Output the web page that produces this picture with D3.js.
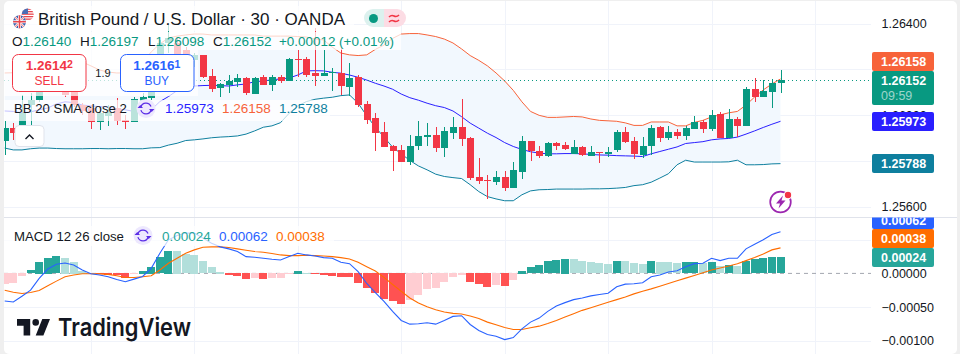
<!DOCTYPE html>
<html><head><meta charset="utf-8">
<script src="https://cdn.jsdelivr.net/npm/d3@7/dist/d3.min.js"></script>
<style>
html,body{margin:0;padding:0;background:#fff}
svg{display:block}
text{font-family:"Liberation Sans",Arial,sans-serif}
</style></head><body>
<svg id="c" width="960" height="354"></svg>
<script>
const OPEN=[1.25885,1.25944,1.25924,1.26045,1.26066,1.26139,1.26190,1.26175,1.26110,1.26045,1.26030,1.25969,1.25994,1.26030,1.25979,1.25972,1.26062,1.26074,1.26110,1.26316,1.26316,1.26284,1.26241,1.26263,1.26171,1.26120,1.26132,1.26146,1.26161,1.26092,1.26165,1.26132,1.26165,1.26151,1.26245,1.26244,1.26183,1.26172,1.26183,1.26186,1.26123,1.26168,1.26049,1.25988,1.25927,1.25866,1.25848,1.25794,1.25866,1.25906,1.25914,1.25857,1.25922,1.25949,1.25901,1.25730,1.25717,1.25709,1.25730,1.25682,1.25752,1.25887,1.25844,1.25822,1.25879,1.25870,1.25831,1.25861,1.25822,1.25839,1.25831,1.25848,1.25927,1.25887,1.25826,1.25866,1.25949,1.25901,1.25927,1.25909,1.25940,1.25970,1.25940,1.26005,1.25901,1.25983,1.25953,1.26114,1.26079,1.26101,1.26140];
const HIGH=[1.25976,1.25965,1.26088,1.26098,1.26154,1.26204,1.26204,1.26190,1.26124,1.26052,1.26045,1.26023,1.26045,1.26074,1.26001,1.26081,1.26095,1.26117,1.26328,1.26401,1.26335,1.26299,1.26270,1.26263,1.26202,1.26139,1.26175,1.26180,1.26165,1.26168,1.26174,1.26174,1.26174,1.26248,1.26284,1.26252,1.26379,1.26284,1.26207,1.26296,1.26228,1.26175,1.26062,1.26008,1.25970,1.25870,1.25871,1.25914,1.25975,1.25965,1.25949,1.25946,1.25992,1.26071,1.25905,1.25813,1.25739,1.25757,1.25757,1.25796,1.25909,1.25887,1.25866,1.25883,1.25883,1.25883,1.25892,1.25866,1.25866,1.25839,1.25861,1.25935,1.25949,1.25905,1.25903,1.25957,1.25953,1.25953,1.25940,1.25953,1.25997,1.25979,1.26023,1.26014,1.26027,1.25992,1.26123,1.26162,1.26154,1.26158,1.26197];
const LOW=[1.25826,1.25892,1.25892,1.25957,1.26059,1.26132,1.26154,1.26081,1.26037,1.26001,1.25940,1.25933,1.25954,1.25957,1.25940,1.25972,1.26059,1.26066,1.26103,1.26270,1.26241,1.26226,1.26212,1.26161,1.26101,1.26078,1.26098,1.26122,1.26088,1.26092,1.26130,1.26106,1.26142,1.26149,1.26168,1.26165,1.26127,1.26171,1.26106,1.26087,1.26085,1.26037,1.25959,1.25845,1.25861,1.25758,1.25796,1.25784,1.25848,1.25863,1.25837,1.25819,1.25896,1.25866,1.25717,1.25701,1.25634,1.25696,1.25669,1.25682,1.25722,1.25800,1.25813,1.25818,1.25848,1.25848,1.25831,1.25822,1.25822,1.25791,1.25818,1.25839,1.25879,1.25809,1.25813,1.25826,1.25883,1.25892,1.25896,1.25892,1.25940,1.25922,1.25931,1.25901,1.25901,1.25905,1.25953,1.26058,1.26079,1.26031,1.26098];
const CLOSE=[1.25943,1.25921,1.26008,1.26066,1.26139,1.26190,1.26175,1.26088,1.26045,1.26020,1.25969,1.26008,1.26015,1.25976,1.25972,1.26071,1.26078,1.26103,1.26316,1.26335,1.26263,1.26241,1.26263,1.26165,1.26114,1.26136,1.26149,1.26162,1.26098,1.26164,1.26133,1.26165,1.26151,1.26244,1.26242,1.26174,1.26171,1.26186,1.26187,1.26129,1.26162,1.26046,1.25979,1.25924,1.25861,1.25845,1.25796,1.25866,1.25909,1.25914,1.25857,1.25931,1.25949,1.25896,1.25726,1.25713,1.25714,1.25730,1.25682,1.25761,1.25887,1.25844,1.25822,1.25879,1.25866,1.25853,1.25861,1.25826,1.25839,1.25835,1.25839,1.25927,1.25883,1.25831,1.25866,1.25944,1.25898,1.25927,1.25909,1.25944,1.25970,1.25940,1.26001,1.25901,1.25983,1.25953,1.26114,1.26079,1.26106,1.26140,1.26152];
const BB_UPPER=[1.26184,1.26185,1.26184,1.26184,1.26188,1.26197,1.26210,1.26223,1.26232,1.26232,1.26215,1.26197,1.26188,1.26184,1.26184,1.26197,1.26232,1.26276,1.26311,1.26337,1.26345,1.26350,1.26354,1.26354,1.26350,1.26350,1.26350,1.26350,1.26350,1.26350,1.26345,1.26345,1.26345,1.26345,1.26343,1.26341,1.26332,1.26328,1.26297,1.26271,1.26263,1.26260,1.26263,1.26287,1.26306,1.26335,1.26354,1.26356,1.26356,1.26350,1.26343,1.26332,1.26315,1.26289,1.26260,1.26239,1.26215,1.26184,1.26149,1.26108,1.26058,1.26016,1.25999,1.25990,1.25990,1.25992,1.25994,1.25992,1.25983,1.25977,1.25975,1.25973,1.25966,1.25955,1.25955,1.25970,1.25970,1.25970,1.25953,1.25953,1.25968,1.25977,1.25992,1.26001,1.26010,1.26016,1.26044,1.26079,1.26110,1.26136,1.26158];
const BB_MID=[1.26018,1.26016,1.26010,1.26014,1.26023,1.26031,1.26049,1.26058,1.26055,1.26044,1.26040,1.26037,1.26036,1.26027,1.26023,1.26016,1.26011,1.26023,1.26059,1.26081,1.26107,1.26119,1.26127,1.26129,1.26130,1.26129,1.26127,1.26132,1.26136,1.26146,1.26149,1.26154,1.26158,1.26162,1.26175,1.26193,1.26194,1.26193,1.26187,1.26183,1.26175,1.26165,1.26153,1.26139,1.26127,1.26113,1.26092,1.26076,1.26065,1.26052,1.26041,1.26033,1.26018,1.25993,1.25965,1.25943,1.25921,1.25902,1.25880,1.25863,1.25850,1.25840,1.25834,1.25831,1.25831,1.25832,1.25832,1.25831,1.25828,1.25826,1.25825,1.25823,1.25822,1.25821,1.25819,1.25831,1.25841,1.25851,1.25861,1.25876,1.25880,1.25884,1.25892,1.25896,1.25898,1.25904,1.25917,1.25931,1.25946,1.25960,1.25973];
const BB_LOWER=[1.25856,1.25848,1.25848,1.25853,1.25856,1.25856,1.25854,1.25853,1.25853,1.25853,1.25854,1.25854,1.25853,1.25854,1.25854,1.25853,1.25853,1.25857,1.25858,1.25869,1.25877,1.25889,1.25892,1.25896,1.25901,1.25904,1.25906,1.25909,1.25917,1.25931,1.25947,1.25953,1.25967,1.26008,1.26040,1.26059,1.26069,1.26074,1.26078,1.26085,1.26088,1.26052,1.25997,1.25947,1.25904,1.25860,1.25831,1.25802,1.25778,1.25761,1.25742,1.25732,1.25727,1.25723,1.25696,1.25666,1.25644,1.25634,1.25626,1.25626,1.25652,1.25669,1.25674,1.25675,1.25677,1.25677,1.25677,1.25677,1.25678,1.25678,1.25679,1.25681,1.25684,1.25692,1.25696,1.25707,1.25725,1.25744,1.25783,1.25803,1.25795,1.25795,1.25795,1.25795,1.25796,1.25803,1.25783,1.25783,1.25784,1.25787,1.25788];
const MACD_HIST=[-0.00016,-0.00015,-0.00005,0.00005,0.000175,0.000235,0.00026,0.000235,0.000175,0.00004,0.00001,-0.00001,-0.00003,-0.000032,-0.00008,-0.00002,0.00004,0.0001,0.00024,0.00034,0.000336,0.00029,0.00028,0.00018,0.00009,0.000025,-0.000035,-0.00005,-0.000095,-0.00008,-0.000095,-0.00008,-0.000078,-0.000005,0.00004,0.00001,-0.00002,-0.000025,-0.00004,-0.000065,-0.000066,-0.000145,-0.00023,-0.000305,-0.00038,-0.000415,-0.00046,-0.000395,-0.000325,-0.000245,-0.00022,-0.00013,-0.000055,-0.000035,-0.00013,-0.00017,-0.000205,-0.000175,-0.00019,-0.00011,0.00004,0.000095,0.000125,0.000185,0.0002,0.00022,0.000215,0.000185,0.00017,0.000155,0.00014,0.000185,0.000184,0.000155,0.00014,0.000185,0.000175,0.00017,0.000155,0.00017,0.000171,0.00015,0.00017,0.00011,0.000125,0.000115,0.00019,0.000215,0.000225,0.000237,0.00024];
const MACD_LINE=[-0.00041,-0.000425,-0.00034,-0.00025,-0.000075,0.000065,0.000135,0.000155,0.000125,0.00005,-0.000005,-0.000025,-0.00005,-0.00009,-0.000125,-0.000085,-0.000045,0.000075,0.0003,0.0005,0.000565,0.0006,0.0006,0.000525,0.00045,0.000395,0.000365,0.000325,0.00025,0.00024,0.000225,0.00021,0.0002,0.00025,0.0003,0.000275,0.00026,0.000235,0.000225,0.000165,0.000145,0.000025,-0.00015,-0.000285,-0.000415,-0.000565,-0.0007,-0.000755,-0.00075,-0.000735,-0.000755,-0.0007,-0.00064,-0.00063,-0.00076,-0.00085,-0.00091,-0.000935,-0.000985,-0.000955,-0.000825,-0.000725,-0.000665,-0.000565,-0.000485,-0.000435,-0.00039,-0.000365,-0.000335,-0.000315,-0.000295,-0.0002,-0.00016,-0.000155,-0.00014,-0.00005,-0.000025,0.00002,0.00004,0.0001,0.000145,0.00015,0.000225,0.00019,0.000225,0.000225,0.000365,0.000435,0.0005,0.00058,0.00062];
const MACD_SIGNAL=[-0.00025,-0.00028,-0.0003,-0.000285,-0.000255,-0.000185,-0.000115,-0.00005,-0.000025,-0.000005,-0.000005,-0.000007,-0.000015,-0.000035,-0.00006,-0.000062,-0.00005,-0.000035,0.00005,0.00015,0.000225,0.0003,0.00035,0.00039,0.000395,0.000395,0.000385,0.000365,0.000345,0.000325,0.000315,0.000295,0.000275,0.000265,0.000265,0.00027,0.000265,0.00026,0.00025,0.000235,0.000215,0.000165,0.0001,0.000035,-0.00006,-0.000165,-0.000265,-0.000365,-0.00044,-0.000495,-0.00054,-0.000575,-0.000595,-0.000605,-0.000635,-0.00067,-0.000725,-0.000765,-0.000805,-0.000835,-0.000835,-0.00081,-0.000785,-0.000745,-0.0007,-0.00065,-0.0006,-0.00055,-0.00051,-0.00047,-0.00043,-0.00039,-0.00035,-0.000305,-0.000265,-0.00023,-0.00019,-0.00015,-0.00011,-0.00007,-0.00003,0.00001,0.00005,0.00008,0.00011,0.000145,0.00019,0.000235,0.00029,0.00035,0.00038];
const PRICE_GRID=[1.264,1.262,1.26,1.258,1.256];
const PRICE_TICKS=[1.264,1.26,1.256];
const MACD_TICKS=[0,-0.0005,-0.001];
const TITLE="British Pound / U.S. Dollar · 30 · OANDA";
const OHLC_CHANGE="+0.00012 (+0.01%)";

const svg=d3.select("#c");
const UP="#089981",DOWN="#F23645",GRID="#f0f3fa";
const C_UP="#F7633A",C_MID="#2A1FFF",C_LOW="#0E7F9E",C_MACD="#2962FF",C_SIG="#FF6D00",C_HIST="#26A69A";
const PL=4,PR=871,PB=217.5;
const idx=d3.range(OPEN.length);
const x=d3.scaleLinear().domain([0,90]).range([4.7,780.5]);
const y=d3.scaleLinear().domain([1.256,1.264]).range([206.7,23.5]);
const ym=d3.scaleLinear().domain([-0.001,0]).range([340.6,273.4]);
const f5=d3.format(".5f");

// frame
svg.append("rect").attr("width",960).attr("height",354).attr("fill","#efefef");
svg.append("rect").attr("x",4).attr("y",1).attr("width",953).attr("height",353).attr("rx",5).attr("fill","#fff");
const defs=svg.append("defs");
defs.append("clipPath").attr("id","mainClip").append("rect").attr("x",PL).attr("y",1).attr("width",PR-PL).attr("height",PB-1);
defs.append("clipPath").attr("id","subClip").append("rect").attr("x",PL).attr("y",PB).attr("width",PR-PL).attr("height",354-PB);
defs.append("clipPath").attr("id","axisClip").append("rect").attr("x",871).attr("y",PB).attr("width",80).attr("height",354-PB);

// vertical grid lines every 12 bars
const vgrid=[10,22,34,46,58,70,82,94];
const vx=i=>Math.round(x(i))+.5;
svg.append("g").selectAll("line").data(vgrid).join("line")
  .attr("x1",vx).attr("x2",vx).attr("y1",1).attr("y2",354).attr("stroke",GRID);
// horizontal grid
const gMain=svg.append("g").attr("clip-path","url(#mainClip)");
gMain.selectAll("line.g").data(PRICE_GRID).join("line").attr("class","g")
  .attr("x1",PL).attr("x2",PR).attr("y1",d=>Math.round(y(d))+.5).attr("y2",d=>Math.round(y(d))+.5).attr("stroke",GRID);
const gSub=svg.append("g").attr("clip-path","url(#subClip)");
gSub.selectAll("line.g").data([0.0005,-0.0005,-0.001]).join("line").attr("class","g")
  .attr("x1",PL).attr("x2",PR).attr("y1",d=>Math.round(ym(d))+.5).attr("y2",d=>Math.round(ym(d))+.5).attr("stroke",GRID);
svg.append("line").attr("x1",PL).attr("x2",957).attr("y1",217.5).attr("y2",217.5).attr("stroke","#e0e3eb");

// Bollinger band
gMain.append("path").datum(idx).attr("fill","#F2F8FE")
  .attr("d",d3.area().x(x).y0(i=>y(BB_LOWER[i])).y1(i=>y(BB_UPPER[i])));
const bbLine=a=>d3.line().x(x).y(i=>y(a[i]));
[[BB_UPPER,C_UP],[BB_MID,C_MID],[BB_LOWER,C_LOW]].forEach(([a,c])=>{
  gMain.append("path").datum(idx).attr("fill","none").attr("stroke",c).attr("stroke-width",1).attr("d",bbLine(a));
});
// dotted last price line
gMain.append("line").attr("x1",PL).attr("x2",PR).attr("y1",Math.round(y(CLOSE[90]))+.5).attr("y2",Math.round(y(CLOSE[90]))+.5)
  .attr("stroke",UP).attr("stroke-dasharray","1 3");
// candles
const cg=gMain.append("g").attr("shape-rendering","crispEdges");
cg.selectAll("line").data(idx).join("line")
  .attr("x1",i=>Math.round(x(i))+.5).attr("x2",i=>Math.round(x(i))+.5)
  .attr("y1",i=>y(HIGH[i])).attr("y2",i=>y(LOW[i]))
  .attr("stroke",i=>CLOSE[i]>=OPEN[i]?UP:DOWN);
cg.selectAll("rect").data(idx).join("rect")
  .attr("x",i=>Math.round(x(i))-3).attr("width",7)
  .attr("y",i=>Math.round(y(Math.max(OPEN[i],CLOSE[i]))))
  .attr("height",i=>Math.max(1,Math.round(y(Math.min(OPEN[i],CLOSE[i])))-Math.round(y(Math.max(OPEN[i],CLOSE[i])))))
  .attr("fill",i=>CLOSE[i]>=OPEN[i]?UP:DOWN);

// MACD pane
gSub.append("line").attr("x1",PL).attr("x2",PR).attr("y1",ym(0)).attr("y2",ym(0))
  .attr("stroke","#a3a6af").attr("stroke-dasharray","4 4");
const histColor=i=>{const v=MACD_HIST[i],p=i?MACD_HIST[i-1]:-1;
  return v>=0?(v>=p?"#26A69A":"#B2DFDB"):(v<p?"#FF5252":"#FFCDD2");};
gSub.append("g").attr("shape-rendering","crispEdges").selectAll("rect").data(idx).join("rect")
  .attr("x",i=>Math.round(x(i))-4).attr("width",8)
  .attr("y",i=>Math.round(Math.min(ym(0),ym(MACD_HIST[i]))))
  .attr("height",i=>Math.max(1,Math.round(Math.abs(ym(MACD_HIST[i])-ym(0)))))
  .attr("fill",histColor);
[[MACD_SIGNAL,C_SIG],[MACD_LINE,C_MACD]].forEach(([a,c])=>{
  gSub.append("path").datum(idx).attr("fill","none").attr("stroke",c).attr("stroke-width",1.1)
    .attr("d",d3.line().x(x).y(i=>ym(a[i])));
});

// translucent legend backdrops
[[4,6,350,25],[4,32,397,18],[4,50,194,46],[4,100,326,21],[4,226,330,20]].forEach(r=>{
  svg.append("rect").attr("x",r[0]).attr("y",r[1]).attr("width",r[2]).attr("height",r[3]).attr("fill","#fff").attr("opacity",.72);
});

// Axes
const axP=svg.append("g").attr("transform","translate(871,0)")
  .call(d3.axisRight(y).tickValues(PRICE_TICKS).tickSize(0).tickPadding(10.5).tickFormat(f5));
const axM=svg.append("g").attr("transform","translate(871,0)")
  .call(d3.axisRight(ym).tickValues(MACD_TICKS).tickSize(0).tickPadding(10.5).tickFormat(f5));
[axP,axM].forEach(a=>{a.select(".domain").remove();
  a.selectAll("text").attr("font-size",12.5).attr("fill","#131722").style("font-family",'"Liberation Sans",Arial,sans-serif');});

// last value labels
function tag(g,top,h,c,lines){
  g.append("rect").attr("x",872).attr("y",top).attr("width",62).attr("height",h).attr("rx",2).attr("fill",c);
  lines.forEach(l=>g.append("text").attr("x",881).attr("y",l.y).attr("font-size",12.5).attr("fill",l.c||"#fff").attr("font-weight",l.w||700).text(l.t));
}
const gt=svg.append("g");
tag(gt,52,19,C_UP,[{t:f5(BB_UPPER[90]),y:66}]);
tag(gt,71,34,UP,[{t:f5(CLOSE[90]),y:85},{t:"09:59",y:100,c:"rgba(255,255,255,.6)",w:400}]);
tag(gt,112,19,C_MID,[{t:f5(BB_MID[90]),y:126}]);
tag(gt,154,19,C_LOW,[{t:f5(BB_LOWER[90]),y:168}]);
const gt2=svg.append("g").attr("clip-path","url(#axisClip)");
tag(gt2,210,19,C_MACD,[{t:f5(MACD_LINE[90]),y:224.5}]);
tag(gt2,229,19,C_SIG,[{t:f5(MACD_SIGNAL[90]),y:243}]);
tag(gt2,248,19,C_HIST,[{t:f5(MACD_HIST[90]),y:262}]);

// Title
svg.append("text").attr("x",38).attr("y",25).attr("font-size",16.5).attr("fill","#131722").attr("textLength",307).attr("lengthAdjust","spacingAndGlyphs").text(TITLE);
// flags
const flags=svg.append("g");
defs.append("clipPath").attr("id","us").append("circle").attr("cx",27.7).attr("cy",14.5).attr("r",6);
defs.append("clipPath").attr("id","uk").append("circle").attr("cx",19.5).attr("cy",21.8).attr("r",6.5);
const us=flags.append("g").attr("clip-path","url(#us)");
us.append("rect").attr("x",21).attr("y",8).attr("width",14).attr("height",14).attr("fill","#fff");
d3.range(5).forEach(k=>us.append("rect").attr("x",21).attr("y",8.5+k*2.5).attr("width",14).attr("height",1.3).attr("fill","#E8464E"));
us.append("rect").attr("x",21).attr("y",8).attr("width",7).attr("height",6).attr("fill","#4A6FB5");
const uk=flags.append("g").attr("clip-path","url(#uk)");
uk.append("circle").attr("cx",19.5).attr("cy",21.8).attr("r",7.5).attr("fill","#fff");
uk.append("rect").attr("x",12).attr("y",15).attr("width",15).attr("height",14).attr("fill","#3D62AE");
uk.append("path").attr("d","M13 15L26 29M26 15L13 29").attr("stroke","#fff").attr("stroke-width",2.2);
uk.append("path").attr("d","M13 15L26 29M26 15L13 29").attr("stroke","#E8464E").attr("stroke-width",.8);
uk.append("path").attr("d","M19.5 15V29M12 21.8H27").attr("stroke","#fff").attr("stroke-width",3);
uk.append("path").attr("d","M19.5 15V29M12 21.8H27").attr("stroke","#E8464E").attr("stroke-width",1.6);
// status pill
svg.append("path").attr("d","M384 9H373a9 9 0 0 0 0 18H384Z").attr("fill","#DCF1EE");
svg.append("path").attr("d","M384 9H397a9 9 0 0 1 0 18H384Z").attr("fill","#FCDCE4");
svg.append("circle").attr("cx",373.5).attr("cy",18.5).attr("r",4.5).attr("fill",UP);
svg.append("path").attr("d","M389 17c2-2 3-2 5-1s3 1 5-1M389 22c2-2 3-2 5-1s3 1 5-1").attr("fill","none").attr("stroke","#F23645").attr("stroke-width",1.6);

// OHLC row
[["O",OPEN[90],12],["H",HIGH[90],80],["L",LOW[90],148],["C",CLOSE[90],213]].forEach(([k,v,px])=>{
  const t=svg.append("text").attr("x",px).attr("y",45.5).attr("font-size",13.5);
  t.append("tspan").attr("fill","#131722").text(k);
  t.append("tspan").attr("fill",UP).text(f5(v));
});
svg.append("text").attr("x",279).attr("y",45.5).attr("font-size",13.5).attr("fill",UP).attr("textLength",115).attr("lengthAdjust","spacingAndGlyphs").text(OHLC_CHANGE);

// Buy / sell
[{cx:49.3,x:12.5,c:"#F23645",a:"1.2614",b:"2",t:"SELL"},{cx:156.8,x:120.5,c:"#2962FF",a:"1.2616",b:"1",t:"BUY"}].forEach(b=>{
  svg.append("rect").attr("x",b.x).attr("y",54.5).attr("width",73.5).attr("height",37).attr("rx",6).attr("fill","#fff").attr("stroke",b.c);
  const t=svg.append("text").attr("x",b.cx).attr("y",70).attr("text-anchor","middle").attr("fill",b.c).attr("font-size",13.5).attr("font-weight",700);
  t.append("tspan").text(b.a); t.append("tspan").attr("font-size",10.5).attr("dy",-2).text(b.b);
  svg.append("text").attr("x",b.cx).attr("y",85).attr("text-anchor","middle").attr("fill",b.c).attr("font-size",12).text(b.t);
});
svg.append("text").attr("x",103).attr("y",77).attr("text-anchor","middle").attr("font-size",11).attr("fill","#131722").text("1.9");

// reload icon
function reload(cx,cy){
  svg.append("circle").attr("cx",cx).attr("cy",cy).attr("r",9.5).attr("fill","#EDE8FE");
  const a=d3.arc().innerRadius(4.7).outerRadius(6);
  svg.append("path").attr("transform",`translate(${cx},${cy})`).attr("fill","#5B2EE6").attr("d",a({startAngle:-1.3,endAngle:1.2}));
  svg.append("path").attr("transform",`translate(${cx},${cy})`).attr("fill","#5B2EE6").attr("d",a({startAngle:1.85,endAngle:4.4}));
  svg.append("path").attr("transform",`translate(${cx},${cy})`).attr("fill","#5B2EE6").attr("d","M3 0.5H8.5L5.7 3.5ZM-3-0.5H-8.5L-5.7-3.5Z");
}
// BB legend
svg.append("text").attr("x",14).attr("y",113).attr("font-size",13.2).attr("fill","#131722").text("BB 20 SMA close 2");
reload(146,108.5);
[[165,BB_MID[90],C_MID],[222,BB_UPPER[90],C_UP],[279,BB_LOWER[90],C_LOW]].forEach(([px,v,c])=>
  svg.append("text").attr("x",px).attr("y",113).attr("font-size",13.5).attr("fill",c).text(f5(v)));
// collapse button
svg.append("rect").attr("x",15).attr("y",125.5).attr("width",29).attr("height",21).attr("rx",4).attr("fill","#fff").attr("stroke","#e0e3eb");
svg.append("path").attr("d","M25.5 139L29.5 135L33.5 139").attr("fill","none").attr("stroke","#131722").attr("stroke-width",1.4);
// MACD legend
svg.append("text").attr("x",14).attr("y",240.5).attr("font-size",13.2).attr("fill","#131722").text("MACD 12 26 close");
reload(143,235.5);
[[162,MACD_HIST[90],C_HIST],[219,MACD_LINE[90],C_MACD],[276,MACD_SIGNAL[90],C_SIG]].forEach(([px,v,c])=>
  svg.append("text").attr("x",px).attr("y",240.5).attr("font-size",13.5).attr("fill",c).text(f5(v)));

// lightning
svg.append("circle").attr("cx",780.5).attr("cy",202).attr("r",10.3).attr("fill","#fff").attr("stroke","#9C27B0").attr("stroke-width",1.7);
svg.append("path").attr("d","M783 195.5L776 203.5H780L778.5 208.5L785.5 200.5H781.5Z").attr("fill","#9C27B0");
svg.append("circle").attr("cx",788).attr("cy",195).attr("r",3.8).attr("fill","#F23645").attr("stroke","#fff").attr("stroke-width",1.2);

// logo
svg.append("path").attr("transform","translate(14.8,312.5) scale(1.1)").attr("fill","#131722")
  .attr("d","M14 6H2v6h6v9h6V6zm12 15h-7l6-15h7l-6 15zm-7-9a3 3 0 1 0 0-6 3 3 0 0 0 0 6z");
svg.append("text").attr("x",58).attr("y",336).attr("font-size",24.5).attr("font-weight",600).style("font-family","Inter").attr("fill","#131722").attr("textLength",133).attr("lengthAdjust","spacingAndGlyphs").text("TradingView");
</script></body></html>
